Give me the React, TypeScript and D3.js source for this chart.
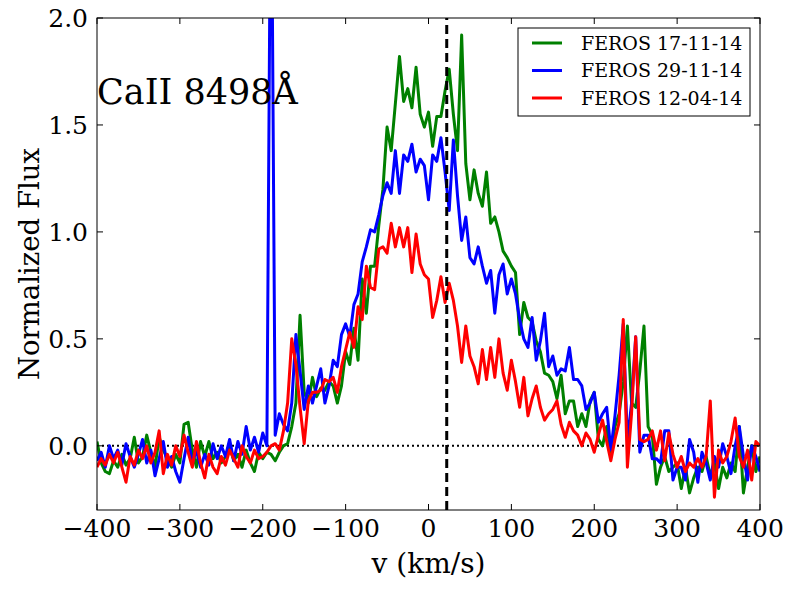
import React from 'react';
import * as d3 from 'd3';

// velocity grid, km/s (5 km/s steps from -400 to 400)
const velocity: number[] = d3.range(-400, 405, 5);

// FEROS 17-11-14
const flux1711: number[] = [
  0.02, -0.08, -0.12, -0.13, -0.07, -0.1, -0.04, -0.09, -0.06, 0.04,
  -0.08, -0.05, 0.05, -0.03, -0.1, 0.04, -0.02, -0.06, -0.1, -0.04,
  -0.08, 0.1, 0.11, -0.02, -0.1, 0.02, -0.05, 0.02, -0.06, -0.03,
  -0.08, -0.05, 0.0, -0.07, -0.04, -0.1, -0.02, -0.08, -0.12, -0.03,
  -0.06, -0.03, -0.04, -0.07, -0.03, 0.0, 0.01, 0.09, 0.2, 0.61,
  0.25, 0.2, 0.32, 0.23, 0.27, 0.26, 0.3, 0.28, 0.2, 0.28,
  0.44, 0.38, 0.55, 0.4, 0.78, 0.62, 0.84, 0.84, 1.03, 1.2,
  1.49, 1.38, 1.6, 1.82, 1.61, 1.67, 1.58, 1.77, 1.55, 1.49,
  1.56, 1.4, 1.54, 1.54, 1.66, 1.76, 1.55, 1.38, 1.92, 1.32,
  1.15, 1.29, 1.18, 1.12, 1.28, 1.04, 1.07, 1.0, 0.91, 0.88,
  0.84, 0.81, 0.52, 0.67, 0.6, 0.58, 0.49, 0.44, 0.34, 0.33,
  0.3, 0.22, 0.33, 0.15, 0.21, 0.21, 0.09, 0.15, 0.09, 0.21,
  0.25, 0.03, 0.0, 0.09, -0.03, 0.09, 0.15, 0.3, 0.56, 0.2,
  0.18, 0.35, 0.56, 0.09, 0.05, -0.18, -0.1, -0.05, -0.12, -0.1,
  -0.08, -0.2, -0.1, -0.22, -0.15, -0.1, -0.12, -0.05, -0.14, -0.08,
  -0.2, -0.1, -0.15, -0.08, -0.12, 0.09, -0.22, -0.1, 0.0, -0.12,
  -0.05,
];

// FEROS 29-11-14
const flux2911: number[] = [
  -0.07, -0.03, -0.1, 0.0, -0.06, -0.02, -0.09, 0.01, -0.05, -0.1,
  -0.04, 0.03, -0.08, -0.02, -0.14, -0.06, 0.02, -0.1, -0.05, -0.12,
  -0.17, -0.06, 0.04, -0.08, -0.02, -0.1, -0.04, -0.09, 0.01, -0.06,
  0.0, -0.05, 0.03, -0.07, 0.02, -0.04, 0.09, -0.02, 0.04, -0.03,
  0.06, 0.0, 3.0, 0.05, 0.15, 0.1, 0.07, 0.2, 0.52, 0.35,
  0.17, 0.28, 0.2, 0.28, 0.36, 0.2, 0.28, 0.4, 0.37, 0.52,
  0.57, 0.51, 0.66, 0.71, 0.86, 0.93, 1.01, 1.0, 1.08, 1.17,
  1.23, 1.18, 1.38, 1.18, 1.36, 1.33, 1.41, 1.28, 1.34, 1.31,
  1.15, 1.36, 1.33, 1.44, 1.28, 1.1, 1.43, 1.17, 0.96, 1.07,
  0.88, 0.85, 0.93, 0.84, 0.76, 0.82, 0.62, 0.8, 0.85, 0.71,
  0.78, 0.71, 0.59, 0.5, 0.46, 0.6, 0.4, 0.49, 0.62, 0.37,
  0.42, 0.33, 0.36, 0.35, 0.46, 0.31, 0.31, 0.28, 0.17, 0.2,
  0.25, 0.11, 0.15, 0.18, -0.02, 0.14, 0.33, 0.57, 0.02, 0.2,
  0.51, -0.03, 0.05, 0.05, -0.06, -0.06, -0.08, 0.07, 0.07, -0.16,
  -0.1, -0.1, -0.16, 0.03, -0.03, -0.17, -0.03, -0.08, -0.16, -0.05,
  -0.1, 0.01, -0.05, -0.13, 0.0, 0.09, -0.05, -0.16, 0.0, -0.05,
  -0.12,
];

// FEROS 12-04-14
const flux1204: number[] = [
  -0.1, -0.06, -0.09, -0.04, -0.08, -0.03, -0.1, -0.17, -0.05, -0.09,
  -0.02, -0.06, 0.0, -0.08, -0.03, 0.07, -0.13, -0.04, -0.09, 0.0,
  -0.05, 0.05, -0.03, -0.1, 0.02, -0.08, -0.15, -0.04, -0.1, -0.13,
  -0.05, -0.09, -0.02, -0.06, -0.1, 0.0, -0.05, -0.08, -0.02, -0.06,
  -0.05, -0.03, 0.0, 0.01, -0.02, 0.07, 0.2, 0.5, 0.38, 0.18,
  0.01, 0.21, 0.25, 0.25, 0.26, 0.31, 0.3, 0.32, 0.25, 0.37,
  0.45, 0.53, 0.46, 0.65, 0.59, 0.84, 0.74, 0.73, 0.92, 0.93,
  0.9, 1.04, 0.93, 1.02, 0.93, 1.02, 0.81, 0.99, 0.85, 0.8,
  0.78, 0.6, 0.68, 0.79, 0.67, 0.76, 0.68, 0.56, 0.39, 0.56,
  0.42, 0.37, 0.29, 0.45, 0.31, 0.46, 0.32, 0.5, 0.34, 0.26,
  0.4, 0.3, 0.18, 0.32, 0.14, 0.22, 0.28, 0.18, 0.12, 0.15,
  0.17, 0.21, 0.1, 0.04, 0.11, 0.07, 0.05, 0.0, 0.06, 0.03,
  -0.03, 0.05, 0.12, 0.02, -0.07, 0.03, 0.11, 0.59, -0.1, 0.15,
  0.51, 0.03, 0.02, 0.03, 0.07, -0.02, 0.07, -0.07, 0.06, -0.04,
  -0.1, -0.05, -0.12, -0.08, -0.1, -0.06, -0.1, -0.05, 0.21, -0.24,
  -0.02, -0.08, -0.05, 0.02, 0.13, -0.05, -0.1, -0.02, -0.16, 0.02,
  0.0,
];

const seriesNames = ['FEROS 17-11-14', 'FEROS 29-11-14', 'FEROS 12-04-14'];
const seriesColors = ['#008000', '#0000ff', '#ff0000'];
const seriesValues = [flux1711, flux2911, flux1204];

const xTicks = [-400, -300, -200, -100, 0, 100, 200, 300, 400];
const yTicks = [0.0, 0.5, 1.0, 1.5, 2.0];
const restVelocity = 22; // dashed marker
const lineLabel = 'CaII 8498Å';

const width = 800;
const height = 600;
const margin = { top: 18, right: 40, bottom: 90, left: 97 };
const font = '"DejaVu Serif", serif';

const App: React.FC = () => {
  const x = d3.scaleLinear().domain([-400, 400]).range([margin.left, width - margin.right]);
  const y = d3.scaleLinear().domain([-0.3, 2.0]).range([height - margin.bottom, margin.top]);

  const [x0, x1] = x.range();
  const [y0, y1] = y.range();
  const fmtX = d3.format('d');
  const fmtY = d3.format('.1f');

  const line = d3
    .line<number>()
    .x((_, i) => x(velocity[i]))
    .y((d) => y(d));

  const tick = 6;

  return (
    <svg
      width={width}
      height={height}
      style={{ position: 'absolute', left: 0, top: 0, background: '#fff' }}
      fontFamily={font}
    >
      <defs>
        <clipPath id="plot-clip">
          <rect x={x0} y={y1} width={x1 - x0} height={y0 - y1} />
        </clipPath>
      </defs>
      <rect width={width} height={height} fill="#fff" />

      <g clipPath="url(#plot-clip)">
        {/* zero level */}
        <line x1={x0} x2={x1} y1={y(0)} y2={y(0)} stroke="#000" strokeWidth={2} strokeDasharray="2,3" />
        {seriesValues.map((vals, i) => (
          <path key={i} d={line(vals) ?? ''} fill="none" stroke={seriesColors[i]} strokeWidth={3} strokeLinejoin="round" />
        ))}
        {/* dashed marker */}
        <line
          x1={x(restVelocity)}
          x2={x(restVelocity)}
          y1={y0}
          y2={y1}
          stroke="#000"
          strokeWidth={3}
          strokeDasharray="9,5"
        />
      </g>

      {/* frame */}
      <rect x={x0} y={y1} width={x1 - x0} height={y0 - y1} fill="none" stroke="#000" strokeWidth={1} />

      {/* x ticks */}
      {xTicks.map((t) => (
        <g key={'x' + t}>
          <line x1={x(t)} x2={x(t)} y1={y0} y2={y0 - tick} stroke="#000" />
          <line x1={x(t)} x2={x(t)} y1={y1} y2={y1 + tick} stroke="#000" />
          <text x={x(t)} y={y0 + 27} textAnchor="middle" fontSize={25}>
            {t < 0 ? '\u2212' + fmtX(-t) : fmtX(t)}
          </text>
        </g>
      ))}

      {/* y ticks */}
      {yTicks.map((t) => (
        <g key={'y' + t}>
          <line x1={x0} x2={x0 + tick} y1={y(t)} y2={y(t)} stroke="#000" />
          <line x1={x1} x2={x1 - tick} y1={y(t)} y2={y(t)} stroke="#000" />
          <text x={x0 - 9} y={y(t) + 9} textAnchor="end" fontSize={25}>
            {fmtY(t)}
          </text>
        </g>
      ))}

      {/* axis labels */}
      <text x={(x0 + x1) / 2} y={573} textAnchor="middle" fontSize={28}>
        v (km/s)
      </text>
      <text transform={`translate(39,${(y0 + y1) / 2}) rotate(-90)`} textAnchor="middle" fontSize={27.5}>
        Normalized Flux
      </text>

      <text x={x0} y={104} fontSize={35}>
        {lineLabel}
      </text>

      {/* legend */}
      <g transform="translate(518,28)">
        <rect width={232} height={88} fill="#fff" stroke="#000" strokeWidth={1} />
        {seriesNames.map((name, i) => (
          <g key={name} transform={`translate(0,${15 + i * 27.5})`}>
            <line x1={14} x2={44} y1={0} y2={0} stroke={seriesColors[i]} strokeWidth={3} />
            <text x={63} y={6.5} fontSize={19}>
              {name}
            </text>
          </g>
        ))}
      </g>
    </svg>
  );
};

export default App;
